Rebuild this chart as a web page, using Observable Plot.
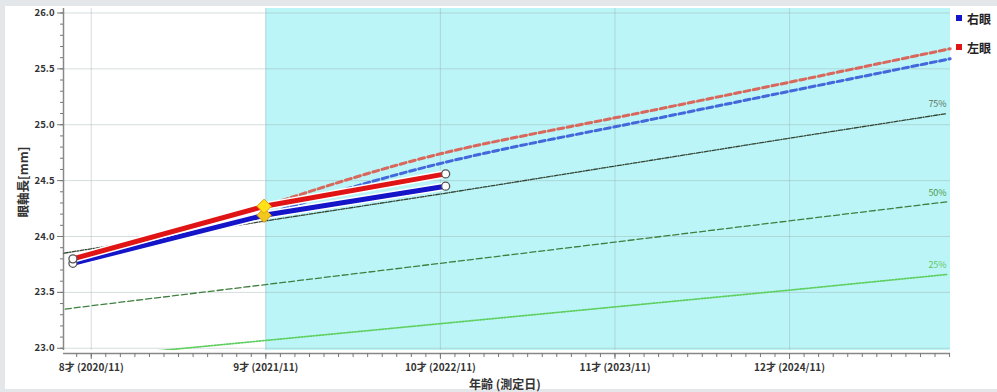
<!DOCTYPE html>
<html><head><meta charset="utf-8">
<script src="https://cdn.jsdelivr.net/npm/d3@7"></script>
<script src="https://cdn.jsdelivr.net/npm/@observablehq/plot@0.6"></script>
<style>
body{margin:0;background:#fff;font-family:"Noto Sans CJK JP","Noto Sans",sans-serif;}
#wrap{position:relative;width:997px;height:392px;overflow:hidden;background:#fff;}
.chrome-top{position:absolute;left:0;top:0;width:997px;height:6px;background:#e4e7ea;}
.chrome-left{position:absolute;left:0;top:0;width:5px;height:392px;background:#e4e7ea;}
.chrome-bottom{position:absolute;left:0;bottom:0;width:997px;height:3px;background:#e4e7ea;}
.ytitle{position:absolute;left:22px;top:182px;transform:translate(-50%,-50%) rotate(-90deg);font-size:12.5px;font-weight:bold;color:#333;white-space:nowrap;}
.xtitle{position:absolute;left:505px;top:383px;transform:translate(-50%,-50%);font-size:12px;font-weight:bold;color:#333;white-space:nowrap;}
.legend{position:absolute;left:956px;top:10px;font-size:12px;font-weight:bold;color:#222;}
.legend div{display:flex;align-items:center;height:16px;margin-bottom:13px;}
.legend span.sw{display:inline-block;width:6px;height:6px;margin-right:5px;}
svg{position:absolute;left:0;top:0;}
</style></head><body>
<div id="wrap"></div>
<script>
// ---- data ----
const ages = [8, 9, 10, 11, 12];
const tickLabels = ["8才 (2020/11)", "9才 (2021/11)", "10才 (2022/11)", "11才 (2023/11)", "12才 (2024/11)"];
const xDomain = [7.841, 12.922];
const yDomain = [22.98, 26.04];
const yMajorTicks = [23.0, 23.5, 24.0, 24.5, 25.0, 25.5, 26.0];
const shaded = [{from: 9, to: 12.922}];

const measuredAges = [7.895, 8.99, 10.03];
const measuredMarker = ["circle", "diamond", "circle"];
const rightEye = [23.76, 24.19, 24.45];
const leftEye = [23.80, 24.27, 24.56];

const projAges = [8.99, 9.5, 10.0, 10.5, 11.0, 11.5, 12.0, 12.92];
const rightProj = [24.19, 24.45, 24.66, 24.83, 24.98, 25.14, 25.30, 25.59];
const leftProj = [24.27, 24.53, 24.75, 24.91, 25.06, 25.22, 25.38, 25.68];

const pctAges = [7.8, 8, 9, 10, 11, 12, 12.9];
const pct75 = [23.84, 23.89, 24.14, 24.38, 24.63, 24.88, 25.10];
const pct50 = [23.34, 23.38, 23.57, 23.76, 23.95, 24.14, 24.31];
const pct25 = [22.89, 22.92, 23.07, 23.22, 23.37, 23.52, 23.66];
const pctNames = ["75%", "50%", "25%"];

const legendNames = ["右眼", "左眼"];
const eyeColors = ["#1414c8", "#e01414"];

// ---- build ----
const toRows = (xs, ys) => xs.map((x, i) => ({x, y: ys[i], marker: measuredMarker[i]}));
const right = toRows(measuredAges, rightEye);
const left = toRows(measuredAges, leftEye);
const rightP = toRows(projAges, rightProj);
const leftP = toRows(projAges, leftProj);
const pcts = [
  {name: pctNames[0], rows: toRows(pctAges, pct75), stroke: "#334433", dash: "4,1.5,1,1.5", width: 1.3, label: "#5a745a"},
  {name: pctNames[1], rows: toRows(pctAges, pct50), stroke: "#3f7f3f", dash: "6,3", width: 1.3, label: "#4c9a4c"},
  {name: pctNames[2], rows: toRows(pctAges, pct25), stroke: "#5fcf5f", dash: "1.5,1.5", width: 1.7, label: "#5fc85f"}
];
const labelMap = new Map(ages.map((a, i) => [a, tickLabels[i]]));
const monthTicks = d3.range(95, 156).map(m => m / 12);
const yMinor = d3.range(230, 261).map(v => v / 10);

const marks = [
  Plot.rect(shaded, {x1: "from", x2: "to", fill: "#bbf5f7"}),
  Plot.gridY(yMajorTicks, {stroke: "#9aa", strokeOpacity: 0.4}),
  Plot.gridX(ages, {stroke: "#9aa", strokeOpacity: 0.4}),
  Plot.ruleX([xDomain[0]], {stroke: "#888", strokeWidth: 1.5}),
  Plot.ruleY([yDomain[0]], {dy: 3, stroke: "#888", strokeWidth: 1.5}),
  Plot.axisY(yMinor, {tickSize: 3, tickFormat: () => "", stroke: "#777", label: null}),
  Plot.axisY(yMajorTicks, {tickSize: 6, tickFormat: d3.format(".1f"), fontWeight: "bold", fontSize: 9.5, fill: "#333", stroke: "#777", tickPadding: 3, label: null}),
  Plot.axisX(monthTicks, {tickSize: 4, tickFormat: () => "", dy: 3, stroke: "#777", label: null}),
  Plot.axisX(ages, {tickSize: 6, tickFormat: d => labelMap.get(d), dy: 3, fontWeight: "bold", fontSize: 10, fill: "#333", stroke: "#777", tickPadding: 4, label: null}),
];
for (const p of pcts) {
  marks.push(Plot.line(p.rows, {x: "x", y: "y", stroke: p.stroke, strokeWidth: p.width, strokeDasharray: p.dash, clip: true}));
  marks.push(Plot.text(p.rows.slice(-1), {x: "x", y: "y", text: () => p.name, textAnchor: "end", dy: -9, fill: p.label, fontSize: 9}));
}
marks.push(
  Plot.line(rightP, {x: "x", y: "y", curve: "basis", stroke: "#4468dc", strokeWidth: 3, strokeDasharray: "6,3.5"}),
  Plot.line(leftP, {x: "x", y: "y", curve: "basis", stroke: "#d8675c", strokeWidth: 3, strokeDasharray: "6,3.5"}),
  Plot.line(right, {x: "x", y: "y", stroke: "white", strokeWidth: 8}),
  Plot.line(right, {x: "x", y: "y", stroke: eyeColors[0], strokeWidth: 5}),
  Plot.line(left, {x: "x", y: "y", stroke: "white", strokeWidth: 8}),
  Plot.line(left, {x: "x", y: "y", stroke: eyeColors[1], strokeWidth: 5}),
  Plot.dot(right.filter(d => d.marker === "circle"), {x: "x", y: "y", r: 4, fill: "white", stroke: "#555", strokeWidth: 1.3}),
  Plot.dot(left.filter(d => d.marker === "circle"), {x: "x", y: "y", r: 4, fill: "white", stroke: "#555", strokeWidth: 1.3}),
  Plot.dot(right.filter(d => d.marker === "diamond"), {x: "x", y: "y", r: 6.5, symbol: "diamond2", fill: "#f2c81e", stroke: "#d89a10", strokeWidth: 1}),
  Plot.dot(left.filter(d => d.marker === "diamond"), {x: "x", y: "y", r: 6.5, symbol: "diamond2", fill: "#ffe21a", stroke: "#e0a010", strokeWidth: 1})
);

const chart = Plot.plot({
  width: 997, height: 392,
  marginLeft: 63, marginRight: 47, marginTop: 8, marginBottom: 42,
  x: {domain: xDomain, label: null},
  y: {domain: yDomain, label: null},
  style: {fontFamily: '"Noto Sans CJK JP","Noto Sans",sans-serif', background: "transparent", overflow: "visible"},
  marks
});
const wrap = document.getElementById("wrap");
wrap.appendChild(chart);
["chrome-top", "chrome-left", "chrome-bottom"].forEach(c => { const d = document.createElement("div"); d.className = c; wrap.appendChild(d); });
const yt = document.createElement("div"); yt.className = "ytitle"; yt.textContent = "眼軸長[mm]"; wrap.appendChild(yt);
const xt = document.createElement("div"); xt.className = "xtitle"; xt.textContent = "年齢 (測定日)"; wrap.appendChild(xt);
const lg = document.createElement("div"); lg.className = "legend";
legendNames.forEach((n, i) => {
  const row = document.createElement("div");
  const sw = document.createElement("span"); sw.className = "sw"; sw.style.background = eyeColors[i];
  row.appendChild(sw); row.appendChild(document.createTextNode(n)); lg.appendChild(row);
});
wrap.appendChild(lg);
</script>
</body></html>
